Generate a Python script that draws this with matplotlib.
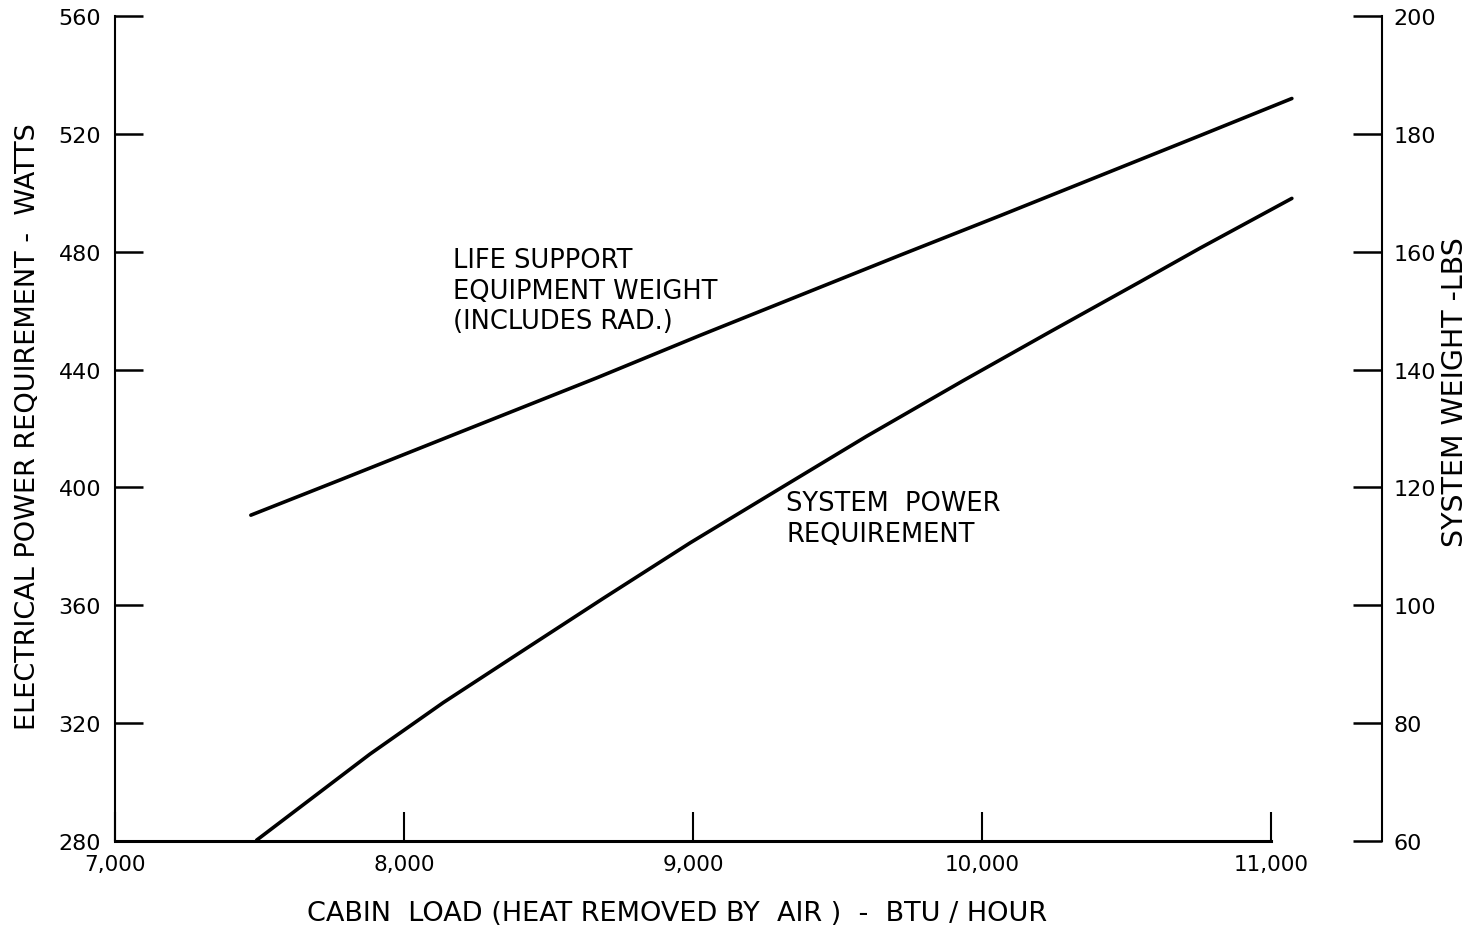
import matplotlib
matplotlib.use("Agg")
from matplotlib import pyplot as plt

# cabin load (BTU/hour)
life_x = [7470, 7780, 8205, 8667, 9024, 9370, 9716, 10062, 10408, 10754, 11072]
# life support equipment weight (lbs, right axis)
life_lbs = [115.3, 121.3, 129.6, 138.6, 145.8, 152.6, 159.4, 166.1, 172.9, 179.7, 186.0]

power_x = [7490, 7882, 8136, 8436, 8690, 8990, 9312, 9601, 9934, 10235, 10547, 10754, 11072]
# system power requirement (watts, left axis)
power_w = [280.3, 309.5, 327.0, 346.2, 362.4, 381.2, 400.3, 417.4, 436.2, 452.8, 469.8, 481.2, 498.1]

xticks = [7000, 8000, 9000, 10000, 11000]
xtick_labels = ["7,000", "8,000", "9,000", "10,000", "11,000"]
watt_ticks = [280, 320, 360, 400, 440, 480, 520, 560]
lbs_ticks = [60, 80, 100, 120, 140, 160, 180, 200]

fig = plt.figure(figsize=(14.69, 9.29), dpi=100)
ax = fig.add_axes([0.0783, 0.0936, 0.8625, 0.8881])
ax2 = ax.twinx()

ax.plot(power_x, power_w, color="black", lw=2.6, solid_capstyle="round")
ax2.plot(life_x, life_lbs, color="black", lw=2.6, solid_capstyle="round")

ax.set_xlim(7000, 11384)
ax.set_ylim(280, 560)
ax2.set_ylim(60, 200)

ax.set_xticks(xticks)
ax.set_xticklabels(xtick_labels)
ax.set_yticks(watt_ticks)
ax2.set_yticks(lbs_ticks)

for a in (ax, ax2):
    a.spines["top"].set_visible(False)
ax.spines["right"].set_visible(False)
ax2.spines["left"].set_visible(False)
ax2.spines["bottom"].set_visible(False)
ax.spines["bottom"].set_bounds(7000, 11000)
ax.spines["bottom"].set_linewidth(2.2)
ax.spines["left"].set_linewidth(1.5)
ax2.spines["right"].set_linewidth(1.5)

ax.tick_params(axis="x", direction="in", length=21, width=1.5, pad=9, labelsize=15.5)
ax.tick_params(axis="y", direction="in", length=20, width=1.8, pad=10, labelsize=16)
ax2.tick_params(axis="y", direction="in", length=21, width=1.8, pad=8, labelsize=16)

ax.set_xlabel("CABIN  LOAD (HEAT REMOVED BY  AIR )  -  BTU / HOUR", fontsize=19.5, va="center")
ax.xaxis.set_label_coords(0.4436, -0.0873)
ax.set_ylabel("ELECTRICAL POWER REQUIREMENT -  WATTS", fontsize=19.5, va="center")
ax.yaxis.set_label_coords(-0.0687, 0.503)
ax2.set_ylabel("SYSTEM WEIGHT -LBS", fontsize=20.5, va="center")
ax2.yaxis.set_label_coords(1.0576, 0.545)

ax.text(8170, 481.5, "LIFE SUPPORT\nEQUIPMENT WEIGHT\n(INCLUDES RAD.)",
        fontsize=18.5, ha="left", va="top", linespacing=1.22)
ax.text(9322, 399.0, "SYSTEM  POWER\nREQUIREMENT",
        fontsize=18.5, ha="left", va="top", linespacing=1.22)

fig.savefig("out.png", dpi=100)
